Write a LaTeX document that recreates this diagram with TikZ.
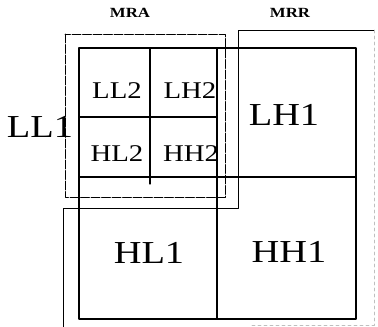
\documentclass[tikz,border=0pt]{standalone}
\usepackage{fontspec}
\setmainfont{Liberation Serif}[FakeStretch=1.2]

\begin{document}
\begin{tikzpicture}[x=1pt,y=-1pt,line join=round,line cap=round,
	band/.style={font=\fontsize{32}{32}\selectfont},
	subband/.style={font=\fontsize{24}{24}\selectfont},
	region/.style={font=\bfseries\fontsize{14}{14}\selectfont}]
	\useasboundingbox (0,0) rectangle (378,327);
	\def\l{79}
	\def\r{356}
	\def\t{48}
	\def\b{319}
	\def\mx{217}
	\def\my{177}
	\def\sx{150}
	\def\sy{117}
	% MRR border
	\draw[line width=0.9pt] (374,30) -- (238,30) -- (238,208) -- (63,208) -- (63,327);
	\draw[gray!50,dashed,line width=0.8pt] (374,30) -- (374,325) -- (250,325);
	% MRA border
	\draw[dash pattern=on 9pt off 1.5pt,line width=0.9pt] (65,34) rectangle (225,197);
	% decomposition
	\draw[line width=1.3pt] (\l,\t) rectangle (\r,\b);
	\draw[line width=1.3pt] (\mx,\t) -- (\mx,\b) (\l,\my) -- (\r,\my);
	\draw[line width=1.1pt] (\sx,\t) -- (\sx,184) (\l,\sy) -- (\mx,\sy);
	\node[region] (mra) at (130,13) {MRA};
	\node[region] (mrr) at (290,13) {MRR};
	\node[band] (ll1) at (40,127) {LL1};
	\node[subband] (ll2) at (117,91) {LL2};
	\node[subband] (lh2) at (190,91) {LH2};
	\node[subband] (hl2) at (117,154) {HL2};
	\node[subband] (hh2) at (191,154) {HH2};
	\node[band] (lh1) at (284,115) {LH1};
	\node[band] (hl1) at (149,253) {HL1};
	\node[band] (hh1) at (289,252) {HH1};
\end{tikzpicture}
\end{document}
